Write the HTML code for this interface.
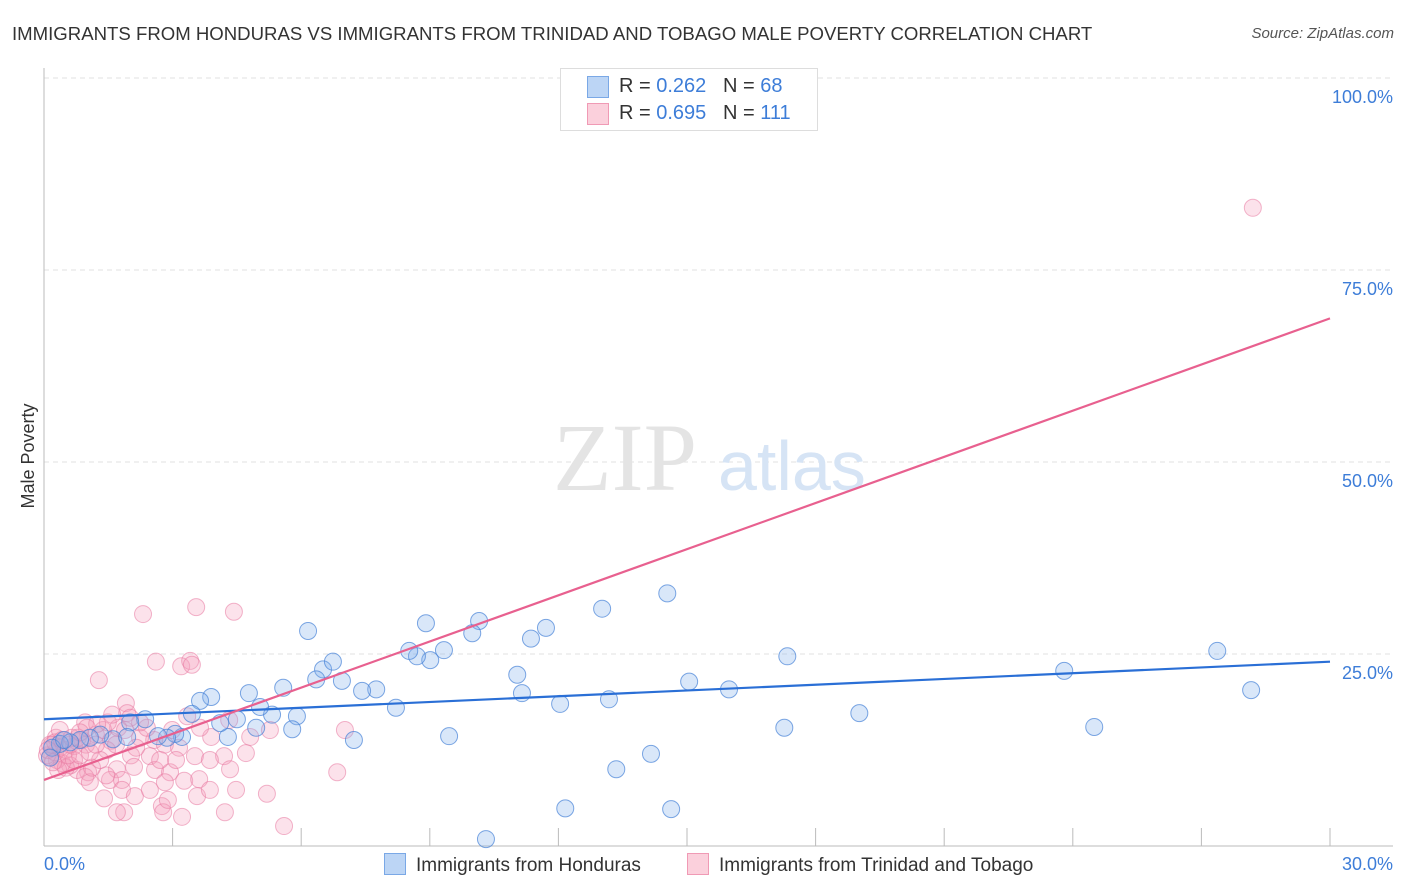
<!DOCTYPE html>
<html><head><meta charset="utf-8"><style>
body{margin:0;background:#fff;font-family:"Liberation Sans",sans-serif;}
#wrap{position:relative;width:1406px;height:892px;overflow:hidden;}
.t{position:absolute;white-space:nowrap;}
</style></head><body><div id="wrap">
<div class="t" style="left:12px;top:23px;font-size:18.6px;color:#333;">IMMIGRANTS FROM HONDURAS VS IMMIGRANTS FROM TRINIDAD AND TOBAGO MALE POVERTY CORRELATION CHART</div>
<div class="t" style="right:12px;top:25px;font-size:15px;color:#555;font-style:italic;">Source: ZipAtlas.com</div>
<svg id="svg" width="1406" height="892" style="position:absolute;left:0;top:0"></svg>
</div>
<script>
const xTickLabels=["0.0%","30.0%"];
const yTickValues=[25,50,75,100];
const yTickLabels=["25.0%","50.0%","75.0%","100.0%"];
const blueX=[10.31,12.16,14.63,13.35,14.16,9.45,7.23,17.27,24.50,19.02,13.18,12.04,11.15,11.04,8.21,15.98,15.05,23.80,27.37,28.16,17.34,14.54,13.02,11.71,11.36,10.15,9.99,9.33,9.01,8.70,8.52,8.91,7.75,7.42,6.95,6.51,6.35,6.74,6.16,5.58,5.90,5.79,5.32,5.04,4.78,4.95,4.50,4.29,3.90,3.64,3.45,4.11,3.22,3.06,2.87,2.66,2.36,2.01,1.61,1.31,1.07,0.84,0.61,0.37,0.19,0.14,0.47,1.94];
const blueY=[0.9,4.9,4.8,10.0,12.0,14.3,13.8,15.4,15.5,17.3,19.1,18.5,19.9,22.3,18.0,20.4,21.4,22.8,25.4,20.3,24.7,32.9,30.9,28.4,27.0,29.3,27.7,25.5,24.2,24.7,25.4,29.0,20.4,20.2,21.5,23.0,21.7,24.0,28.0,20.6,16.9,15.2,17.1,18.1,19.9,15.4,16.5,14.2,19.4,18.9,17.2,16.0,14.2,14.6,14.1,14.3,16.5,16.1,13.9,14.5,14.1,13.8,13.5,13.3,12.8,11.5,13.8,14.2];
const pinkX=[28.2,2.31,3.55,4.43,2.61,3.20,3.41,3.45,1.28,1.91,1.94,0.96,3.34,4.32,5.27,7.02,4.81,3.90,2.57,2.82,1.56,3.52,4.20,3.87,1.47,2.03,2.47,3.15,2.10,1.70,1.03,0.77,0.61,0.42,0.30,0.14,0.07,0.26,0.51,0.70,0.89,1.21,1.38,1.73,2.24,2.59,2.94,3.27,3.62,4.34,4.71,6.84,5.20,3.57,2.82,2.75,1.40,1.87,1.70,1.54,0.96,1.07,1.45,1.82,2.78,3.22,4.22,5.60,2.89,1.12,0.33,0.51,0.70,1.31,0.79,0.28,0.19,0.37,0.56,0.98,1.68,2.15,1.89,2.40,2.99,3.64,2.24,1.49,1.24,1.00,0.37,1.59,2.01,0.14,0.26,0.61,0.84,1.07,2.71,3.08,1.82,2.12,2.47,3.87,4.48,0.09,0.21,0.42,0.65,0.84,1.21];
const pinkY=[83.1,30.2,31.1,30.5,24.0,23.4,24.1,23.6,21.6,18.6,17.3,16.1,16.9,16.4,15.1,15.1,14.2,14.2,13.8,13.2,13.7,11.7,11.7,11.2,12.5,11.8,11.7,12.8,10.3,10.0,9.6,9.9,10.5,10.8,11.2,11.6,11.8,12.2,12.5,13.0,13.8,14.5,15.1,15.4,14.1,9.9,9.6,8.5,8.7,10.0,12.1,9.6,6.8,6.5,8.3,5.2,6.2,4.4,4.4,8.6,9.0,8.3,9.2,8.6,4.4,3.8,4.4,2.6,6.0,10.2,9.9,10.2,11.2,11.2,14.1,14.1,13.2,12.8,11.8,13.2,13.2,12.8,15.1,15.4,15.1,15.4,16.1,16.1,15.9,15.4,15.1,17.1,16.7,13.2,13.5,13.2,11.8,12.2,11.2,11.2,7.3,6.5,7.3,7.3,7.3,12.5,10.9,13.8,14.1,14.8,13.2];
const blueLine=[16.5,24.0];
const pinkLine=[8.6,68.7];
const X0=44,X1=1330,Y0=846,YP=7.68;
const sx=v=>X0+(X1-X0)*v/30;
const sy=v=>Y0-v*YP;
const svg=document.getElementById('svg');
const NS='http://www.w3.org/2000/svg';
function mk(tag,attrs){const e=document.createElementNS(NS,tag);for(const k in attrs)e.setAttribute(k,attrs[k]);svg.appendChild(e);return e;}
yTickValues.forEach((v,i)=>{
 const g=mk('line',{x1:X0,x2:1393,y1:sy(v),y2:sy(v),stroke:'#e2e2e2','stroke-dasharray':'5,4'});
 
 
 const t=mk('text',{x:1393,y:sy(v)+25,'text-anchor':'end','font-size':18,fill:'#3d7dd8','font-family':'Liberation Sans'});
 t.textContent=yTickLabels[i];
 
 
});
const ax=mk('line',{x1:X0,x2:X0,y1:68,y2:Y0,stroke:'#bbb'});


const bx=mk('line',{x1:X0,x2:1393,y1:Y0,y2:Y0,stroke:'#bbb'});


for(let i=1;i<=10;i++){
 const tk=mk('line',{x1:sx(i*3),x2:sx(i*3),y1:828,y2:Y0,stroke:'#bbb'});
 
 
}
const w1=mk('text',{x:553,y:490,'font-size':96,fill:'#e4e4e4','font-family':'Liberation Serif'});w1.textContent='ZIP';


const w2=mk('text',{x:718,y:490,'font-size':70,fill:'#d6e4f5','font-family':'Liberation Sans'});w2.textContent='atlas';


function pts(xs,ys,fill,stroke,name){xs.forEach((x,i)=>{const c=mk('circle',{cx:sx(x),cy:sy(ys[i]),r:8.5,fill:fill,stroke:stroke,'stroke-width':1});
 
 });}
pts(pinkX,pinkY,'rgba(244,160,190,0.3)','rgba(232,120,160,0.55)','pink-point');
pts(blueX,blueY,'rgba(130,175,235,0.3)','rgba(70,130,215,0.7)','blue-point');
const bl=mk('line',{x1:sx(0),y1:sy(blueLine[0]),x2:sx(30),y2:sy(blueLine[1]),stroke:'#2a6fd6','stroke-width':2.2});


const pl=mk('line',{x1:sx(0),y1:sy(pinkLine[0]),x2:sx(30),y2:sy(pinkLine[1]),stroke:'#e8608f','stroke-width':2.2});


[[X0,'start',0],[1393,'end',1]].forEach(([x,a,i])=>{const t=mk('text',{x:x,y:870,'text-anchor':a,'font-size':18,fill:'#3d7dd8','font-family':'Liberation Sans'});t.textContent=xTickLabels[i];
 
 });
const yt=mk('text',{x:34,y:456,'text-anchor':'middle','font-size':18,fill:'#333','font-family':'Liberation Sans',transform:'rotate(-90 34 456)'});yt.textContent='Male Poverty';


</script>
<div class="t" style="left:560px;top:68px;width:256px;height:61px;border:1px solid #ddd;background:#fff;font-size:20px;color:#333;">
 <div style="position:absolute;left:26px;top:7px;width:20px;height:20px;background:#bcd5f5;border:1px solid #7aa8e6;"></div>
 <div style="position:absolute;left:58px;top:6px;">R = <span style="color:#3d7dd8">0.262</span>&nbsp;&nbsp;&nbsp;N = <span style="color:#3d7dd8">68</span></div>
 <div style="position:absolute;left:26px;top:34px;width:20px;height:20px;background:#fbd0dc;border:1px solid #f09ab5;"></div>
 <div style="position:absolute;left:58px;top:33px;">R = <span style="color:#3d7dd8">0.695</span>&nbsp;&nbsp;&nbsp;N = <span style="color:#3d7dd8">111</span></div>
</div>
<div class="t" style="left:384px;top:853px;font-size:19px;color:#333;">
 <span style="display:inline-block;width:20px;height:20px;background:#bcd5f5;border:1px solid #7aa8e6;vertical-align:-4px;margin-right:10px;"></span>Immigrants from Honduras</div>
<div class="t" style="left:687px;top:853px;font-size:19px;color:#333;">
 <span style="display:inline-block;width:20px;height:20px;background:#fbd0dc;border:1px solid #f09ab5;vertical-align:-4px;margin-right:10px;"></span>Immigrants from Trinidad and Tobago</div>
</body></html>
